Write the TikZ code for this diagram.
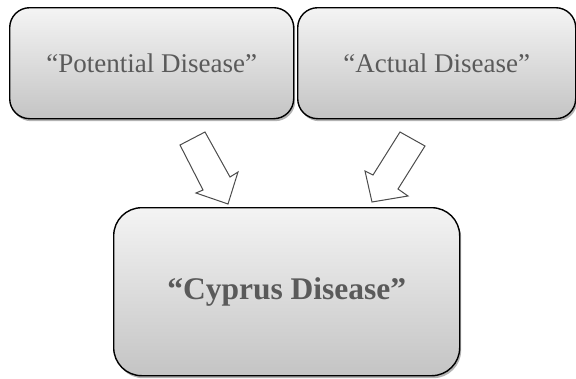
\documentclass[tikz,border=0pt]{standalone}
\usepackage{fontspec}
\setmainfont{Liberation Serif}
\usetikzlibrary{shadows}
\definecolor{txtgray}{HTML}{5A5A5A}
\definecolor{topfill}{HTML}{F4F4F4}
\definecolor{botfill}{HTML}{C4C4C4}
\tikzset{
  box/.style={draw=black, line width=1.4pt, top color=topfill, bottom color=botfill,
    drop shadow={shadow xshift=1.5pt, shadow yshift=-2.5pt, fill=black!50, opacity=0.6},
    text=txtgray},
  blockarrow/.style={draw=black!70, line width=1pt, fill=white, line join=miter}
}
\begin{document}
\begin{tikzpicture}[x=1pt,y=-1pt]
\useasboundingbox (0,0) rectangle (576,378);
% two upper boxes
\node[box, rounded corners=20pt, minimum width=284pt, minimum height=111pt, anchor=north west,
  font=\fontsize{27}{31}\selectfont] (pot) at (9,7) {“Potential Disease”};
\node[box, rounded corners=20pt, minimum width=278pt, minimum height=111pt, anchor=north west,
  font=\fontsize{27}{31}\selectfont] (act) at (297,7) {“Actual Disease”};
% lower box
\node[box, rounded corners=28pt, minimum width=346pt, minimum height=168pt, anchor=north west,
  font=\bfseries\fontsize{31.5}{36}\selectfont] (cyp) at (113,207) {“Cyprus Disease”};
% block arrows between the boxes
\draw[blockarrow] (180,145) -- (205,132) -- (230,177) -- (238,172) -- (228,204)
  -- (196,193) -- (203,190) -- cycle;
\draw[blockarrow] (400,132) -- (425,146) -- (398,189) -- (408,196) -- (372,202)
  -- (365,171) -- (373,175) -- cycle;
\end{tikzpicture}
\end{document}
